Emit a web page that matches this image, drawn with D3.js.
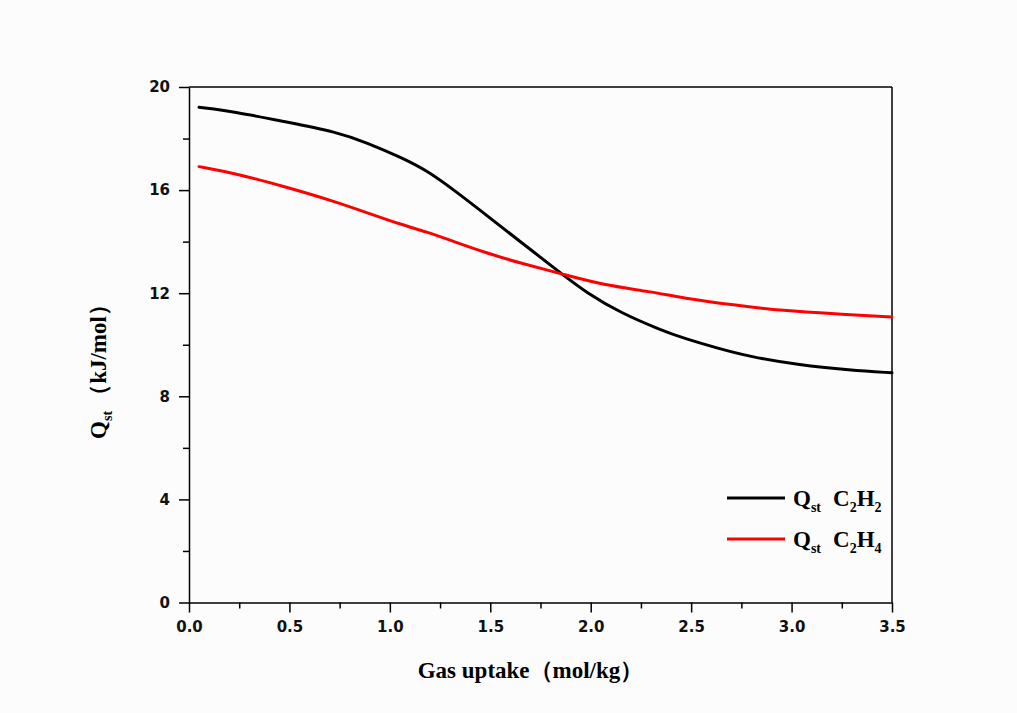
<!DOCTYPE html>
<html>
<head>
<meta charset="utf-8">
<script src="https://cdn.jsdelivr.net/npm/d3@7"></script>
<style>
  html, body { margin: 0; padding: 0; background: #fcfcfc; }
  svg { display: block; }
</style>
</head>
<body>
<div id="chart"></div>
<script>
// Gas uptake (mol/kg) at which each curve was read
const uptakeC2H2 = [0.05, 0.23, 0.48, 0.73, 0.89, 1.06, 1.18, 1.32, 1.48, 1.65, 1.85, 1.98, 2.15, 2.35, 2.46, 2.63, 2.79, 3.04, 3.29, 3.5];
const qstC2H2 = [19.21, 19.04, 18.65, 18.27, 17.83, 17.25, 16.78, 16.0, 15.03, 14.0, 12.78, 12.01, 11.23, 10.57, 10.26, 9.87, 9.54, 9.21, 9.02, 8.91];

const uptakeC2H4 = [0.05, 0.23, 0.48, 0.73, 0.89, 1.06, 1.18, 1.32, 1.48, 1.65, 1.86, 2.06, 2.3, 2.46, 2.71, 2.96, 3.21, 3.5];
const qstC2H4 = [16.91, 16.65, 16.13, 15.55, 15.11, 14.65, 14.39, 14.0, 13.56, 13.17, 12.74, 12.32, 12.06, 11.81, 11.54, 11.32, 11.2, 11.08];

const xTicks = [0, 0.5, 1.0, 1.5, 2.0, 2.5, 3.0, 3.5];
const yTicks = [0, 4, 8, 12, 16, 20];

const series = [
  { name: 'C2H2', x: uptakeC2H2, y: qstC2H2, color: '#000000', sub: ['C', '2', 'H', '2'] },
  { name: 'C2H4', x: uptakeC2H4, y: qstC2H4, color: '#ff0000', sub: ['C', '2', 'H', '4'] }
];

const W = 1017, H = 713;
const margin = { top: 87, right: 125, bottom: 110.5, left: 189 };
const width = W - margin.left - margin.right;
const height = H - margin.top - margin.bottom;

const svg = d3.select('#chart').append('svg')
  .attr('width', W)
  .attr('height', H);

const g = svg.append('g')
  .attr('transform', `translate(${margin.left},${margin.top})`);

const xScale = d3.scaleLinear().domain([0, 3.5]).range([0, width]);
const yScale = d3.scaleLinear().domain([0, 20]).range([height, 0]);

const tickFont = '"DejaVu Sans", sans-serif';
const titleFont = '"Liberation Serif", "Times New Roman", serif';

// minor ticks
g.append('g')
  .attr('transform', `translate(0,${height})`)
  .call(d3.axisBottom(xScale).tickValues(d3.range(0.25, 3.5, 0.5)).tickSize(6).tickFormat(''))
  .call(a => a.select('.domain').remove())
  .selectAll('line').attr('stroke-width', 1.5);

g.append('g')
  .call(d3.axisLeft(yScale).tickValues(d3.range(2, 20, 4)).tickSize(6).tickFormat(''))
  .call(a => a.select('.domain').remove())
  .selectAll('line').attr('stroke-width', 1.5);

// major axes
const xAxis = g.append('g')
  .attr('transform', `translate(0,${height})`)
  .call(d3.axisBottom(xScale).tickValues(xTicks).tickSize(10).tickSizeOuter(0).tickPadding(9).tickFormat(d3.format('.1f')));

const yAxis = g.append('g')
  .call(d3.axisLeft(yScale).tickValues(yTicks).tickSize(10).tickSizeOuter(0).tickPadding(9).tickFormat(d3.format('d')));

[xAxis, yAxis].forEach(a => {
  a.select('.domain').attr('stroke-width', 1.5);
  a.selectAll('line').attr('stroke-width', 1.5);
  a.selectAll('text')
    .style('font-family', tickFont)
    .style('font-weight', 'bold')
    .style('font-size', '15px')
    .attr('fill', '#111');
});

// top and right frame
g.append('line').attr('x1', 0).attr('x2', width).attr('y1', 0).attr('y2', 0)
  .attr('stroke', '#000').attr('stroke-width', 1.5);
g.append('line').attr('x1', width).attr('x2', width).attr('y1', 0).attr('y2', height)
  .attr('stroke', '#000').attr('stroke-width', 1.5);

// curves
const line = d3.line()
  .x(d => xScale(d[0]))
  .y(d => yScale(d[1]))
  .curve(d3.curveBasis);

series.forEach(s => {
  g.append('path')
    .datum(s.x.map((v, i) => [v, s.y[i]]))
    .attr('fill', 'none')
    .attr('stroke', s.color)
    .attr('stroke-width', 3)
    .attr('stroke-linecap', 'round')
    .attr('d', line);
});

// legend
const legend = svg.append('g').attr('transform', 'translate(727,498)');
series.forEach((s, i) => {
  const row = legend.append('g').attr('transform', `translate(0,${i * 41})`);
  row.append('line').attr('x1', 0).attr('x2', 58).attr('y1', 0).attr('y2', 0)
    .attr('stroke', s.color).attr('stroke-width', 3);
  const t = row.append('text')
    .attr('x', 66).attr('y', 8)
    .style('font-family', titleFont)
    .style('font-weight', 'bold')
    .style('font-size', '23px')
    .attr('fill', '#000');
  t.append('tspan').text('Q');
  t.append('tspan').attr('dy', 6).style('font-size', '14px').text('st');
  t.append('tspan').attr('dy', -6).attr('dx', 12).text(s.sub[0]);
  t.append('tspan').attr('dy', 6).style('font-size', '14px').text(s.sub[1]);
  t.append('tspan').attr('dy', -6).text(s.sub[2]);
  t.append('tspan').attr('dy', 6).style('font-size', '14px').text(s.sub[3]);
});

// axis titles
svg.append('text')
  .attr('x', margin.left + width / 2 - 10)
  .attr('y', 678)
  .attr('text-anchor', 'middle')
  .style('font-family', titleFont)
  .style('font-weight', 'bold')
  .style('font-size', '23px')
  .text('Gas uptake（mol/kg）');

const yTitle = svg.append('text')
  .attr('transform', 'translate(106,366) rotate(-90)')
  .attr('text-anchor', 'middle')
  .style('font-family', titleFont)
  .style('font-weight', 'bold')
  .style('font-size', '23px');
yTitle.append('tspan').text('Q');
yTitle.append('tspan').attr('dy', 6).style('font-size', '14px').text('st');
yTitle.append('tspan').attr('dy', -6).attr('dx', 4).text('（kJ/mol）');
</script>
</body>
</html>
